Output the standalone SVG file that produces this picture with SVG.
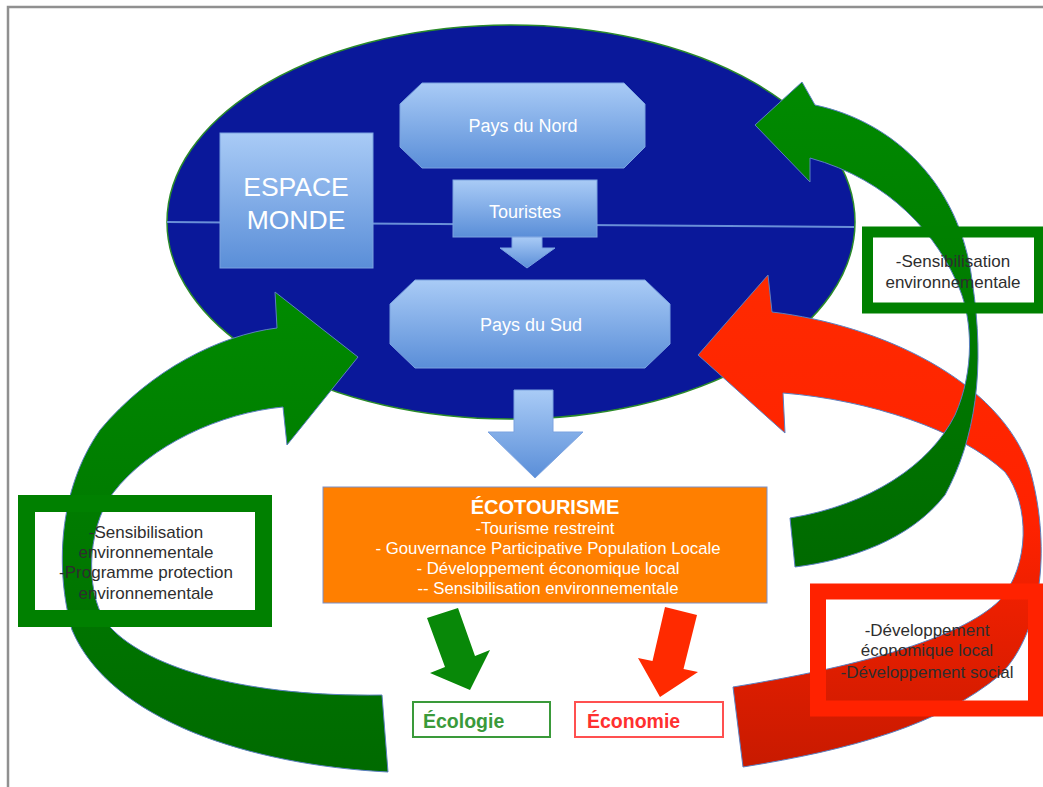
<svg xmlns="http://www.w3.org/2000/svg" width="1043" height="787" viewBox="0 0 1043 787">
<defs>
<linearGradient id="gBlue" x1="0" y1="0" x2="0" y2="1"><stop offset="0" stop-color="#a9cbf6"/><stop offset="1" stop-color="#5a8ed8"/></linearGradient>
<linearGradient id="gGreenL" x1="0" y1="0" x2="0" y2="1"><stop offset="0" stop-color="#008a00"/><stop offset="1" stop-color="#006a00"/></linearGradient>
<linearGradient id="gGreenR" x1="0" y1="0" x2="0" y2="1"><stop offset="0" stop-color="#008a00"/><stop offset="1" stop-color="#006a00"/></linearGradient>
<linearGradient id="gRed" x1="0" y1="0" x2="0" y2="1"><stop offset="0" stop-color="#ff2a00"/><stop offset="0.5" stop-color="#ff2200"/><stop offset="1" stop-color="#c81a00"/></linearGradient>
<style>
.node{fill:url(#gBlue);stroke:#7aa2e0;stroke-width:1}
.wt{fill:#ffffff;font-family:"Liberation Sans",Arial,sans-serif;text-anchor:middle}
.bt{fill:#2e2e2e;font-family:"Liberation Sans",Arial,sans-serif;text-anchor:middle;font-size:17px}
.arc{stroke:#5b7fc0;stroke-width:1}
</style>
</defs>
<rect x="0" y="0" width="1043" height="787" fill="#ffffff"/>
<path d="M8 787 V7 H1043" fill="none" stroke="#909090" stroke-width="2.5"/>

<g id="espace-monde-ellipse">
<ellipse cx="511" cy="222" rx="344" ry="197" fill="#0a189a" stroke="#2a8a2a" stroke-width="1.5"/>
<line x1="167" y1="222" x2="854" y2="227" stroke="#6a8fd8" stroke-width="2"/>
</g>

<g id="espace-monde">
<rect class="node" x="220" y="133" width="153" height="135"/>
<text class="wt" x="296" y="196" font-size="26.5">ESPACE</text>
<text class="wt" x="296" y="229" font-size="26.5">MONDE</text>
</g>

<g id="pays-nord">
<polygon class="node" points="422,83 624,83 645,104 645,147 624,168 422,168 400,147 400,104"/>
<text class="wt" x="523" y="132" font-size="18">Pays du Nord</text>
</g>

<g id="touristes">
<rect class="node" x="453" y="180" width="144" height="57"/>
<text class="wt" x="525" y="218" font-size="18">Touristes</text>
</g>

<g id="pays-sud">
<polygon class="node" points="415,280 645,280 670,304 670,344 645,368 415,368 390,344 390,304"/>
<text class="wt" x="531" y="331" font-size="18">Pays du Sud</text>
</g>

<g id="ecotourisme">
<rect x="323" y="487" width="444" height="116" fill="#ff7f00" stroke="#7a90c8" stroke-width="1"/>
<text class="wt" x="545" y="514" font-size="20" font-weight="bold">ÉCOTOURISME</text>
<text class="wt" x="545" y="534" font-size="16.8">-Tourisme restreint</text>
<text class="wt" x="548" y="554" font-size="16.8">- Gouvernance Participative Population Locale</text>
<text class="wt" x="548" y="574" font-size="16.8">- Développement économique local</text>
<text class="wt" x="548" y="594" font-size="16.8">-- Sensibilisation environnementale</text>
</g>

<g id="ecologie">
<rect x="413" y="702" width="137" height="35" fill="#ffffff" stroke="#3a9a3a" stroke-width="2"/>
<text x="423" y="728" font-family="Liberation Sans, Arial, sans-serif" font-size="19.5" font-weight="bold" fill="#3a9a3a">Écologie</text>
</g>

<g id="economie">
<rect x="575" y="702" width="148" height="35" fill="#ffffff" stroke="#ff5050" stroke-width="2"/>
<text x="587" y="728" font-family="Liberation Sans, Arial, sans-serif" font-size="19.5" font-weight="bold" fill="#ff3030">Économie</text>
</g>

<g id="connectors">
<polygon points="512,237 542,237 542,248 555,248 527,268 500,248 512,248" fill="url(#gBlue)" stroke="#7aa2e0" stroke-width="1"/>
<polygon points="514,390 553,390 553,432 583,432 535,478 488,432 514,432" fill="url(#gBlue)" stroke="#7aa2e0" stroke-width="1"/>
<polygon points="427,618 458,608 475,656 490,650 470,690 430,673 445,667" fill="#088808"/>
<polygon points="665,607 697,615 683.5,669 698,672 660,697 638,658 652.5,661" fill="#ff2a00"/>
<path class="arc" fill="url(#gGreenL)" d="M388 772 C250 765 110 720 72 630 C55 570 58 490 100 430 C150 370 220 335 277 328 L275 292 L358 357 L287 445 L283 407 C220 413 150 445 113 493 C85 530 85 600 110 627 C150 670 250 697 382 695 Z"/>
<path class="arc" fill="url(#gRed)" d="M772 312 C880 325 1000 380 1030 470 C1050 540 1045 630 1000 675 C940 725 850 750 743 767 L733 687 C850 668 960 640 1000 600 C1030 565 1030 505 1005 472 C960 430 870 400 783 393 L785 433 L698 355 L768 275 Z"/>
<path class="arc" fill="url(#gGreenR)" d="M815 105 C895 122 960 185 972 280 C986 370 975 440 945 495 C910 540 850 560 795 567 L790 518 C870 505 930 465 955 415 C975 370 972 320 960 290 C938 235 890 180 810 158 L810 182 L755 125 L802 82 Z"/>
</g>

<g id="box-left">
<rect x="26.5" y="503.5" width="237" height="115" fill="none" stroke="#008000" stroke-width="17"/>
<text class="bt" x="146" y="538">-Sensibilisation</text>
<text class="bt" x="146" y="558">environnementale</text>
<text class="bt" x="146" y="578">-Programme protection</text>
<text class="bt" x="146" y="599">environnementale</text>
</g>

<g id="box-right">
<rect x="867.5" y="232" width="172" height="76" fill="none" stroke="#008000" stroke-width="11"/>
<text class="bt" x="953" y="267" font-size="16">-Sensibilisation</text>
<text class="bt" x="953" y="288" font-size="16">environnementale</text>
</g>

<g id="box-red">
<rect x="818" y="591.5" width="218" height="117" fill="none" stroke="#ff2200" stroke-width="16"/>
<text class="bt" x="927" y="636">-Développement</text>
<text class="bt" x="927" y="656">économique local</text>
<text class="bt" x="927" y="678">-Développement social</text>
</g>
</svg>
